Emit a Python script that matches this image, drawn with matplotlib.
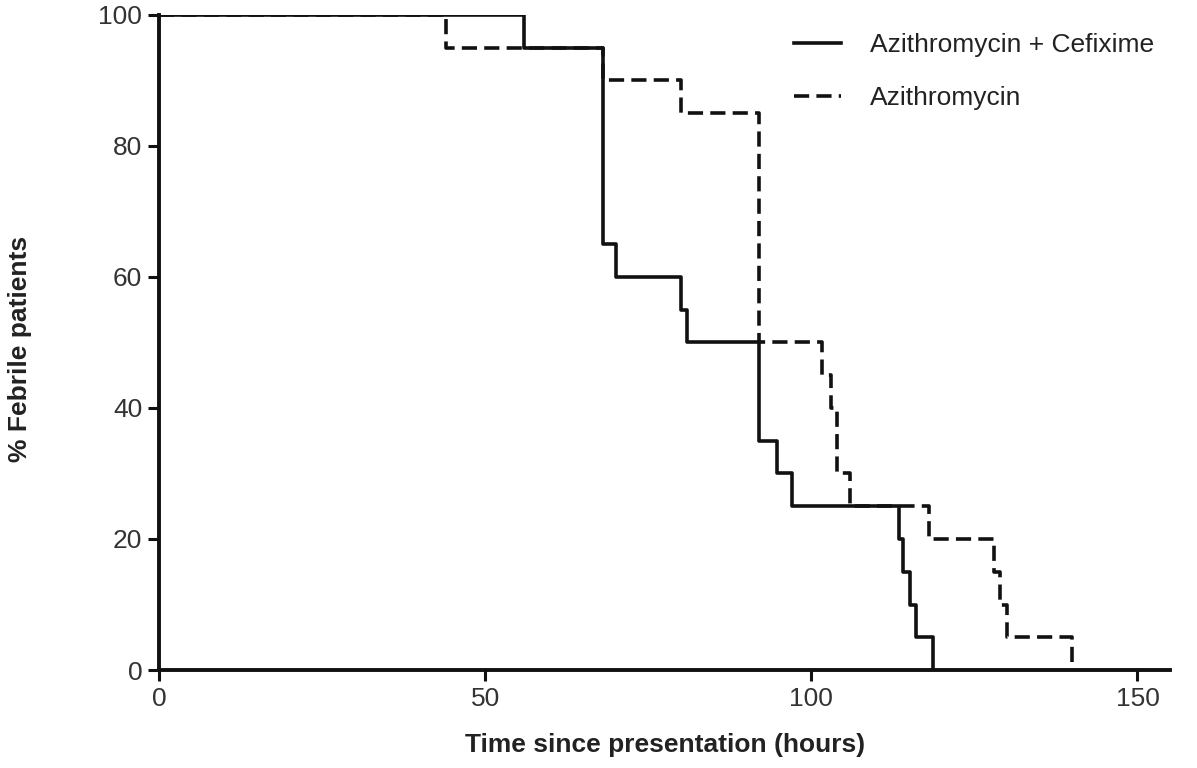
import matplotlib
matplotlib.use("Agg")
import matplotlib.pyplot as plt

# Kaplan-Meier style step data (time in hours, % febrile)
combo_time = [0, 56, 68, 70, 80, 81, 92, 94.7, 97, 113.5, 114, 115.2, 116, 118.7]
combo_pct = [100, 95, 65, 60, 55, 50, 35, 30, 25, 20, 15, 10, 5, 0]

azi_time = [0, 44, 68, 80, 92, 101.6, 103, 104, 106, 118, 128, 129, 130, 140]
azi_pct = [100, 95, 90, 85, 50, 45, 40, 30, 25, 20, 15, 10, 5, 0]

labels = ["Azithromycin + Cefixime", "Azithromycin"]
x_ticks = [0, 50, 100, 150]
y_ticks = [0, 20, 40, 60, 80, 100]

plt.rcParams['font.family'] = ['Liberation Sans', 'DejaVu Sans']

fig = plt.figure(figsize=(11.97, 7.68), dpi=100)
ax = fig.add_axes([0.1328, 0.1276, 0.8447, 0.8529])

ax.step(combo_time, combo_pct, where='post', color='#111111', lw=2.6, label=labels[0])
ax.step(azi_time, azi_pct, where='post', color='#111111', lw=2.6,
        linestyle=(0, (4.2, 2.0)), label=labels[1])

ax.set_xlim(0, 155)
ax.set_ylim(0, 100)
ax.set_xticks(x_ticks)
ax.set_yticks(y_ticks)
for s in ['top', 'right']:
    ax.spines[s].set_visible(False)
for s in ['left', 'bottom']:
    ax.spines[s].set_linewidth(2.8)
    ax.spines[s].set_color('#111111')
ax.tick_params(axis='both', direction='out', length=8, width=2.2, colors='#111111',
               labelsize=19, labelcolor='#333333', pad=4)

ax.set_xlabel("Time since presentation (hours)", fontsize=19, fontweight='bold',
              color='#222222', va='center')
ax.xaxis.set_label_coords(0.5005, -0.1145)
ax.set_ylabel("% Febrile patients", fontsize=19, fontweight='bold',
              color='#222222', va='center')
ax.yaxis.set_label_coords(-0.1375, 0.49)

leg = ax.legend(loc='upper left', bbox_to_anchor=(0.618, 0.988), frameon=False,
                fontsize=19, handlelength=1.75, handletextpad=1.1, labelspacing=1.1,
                borderaxespad=0.0)
for t in leg.get_texts():
    t.set_color('#222222')

fig.savefig("out.png", dpi=100)
